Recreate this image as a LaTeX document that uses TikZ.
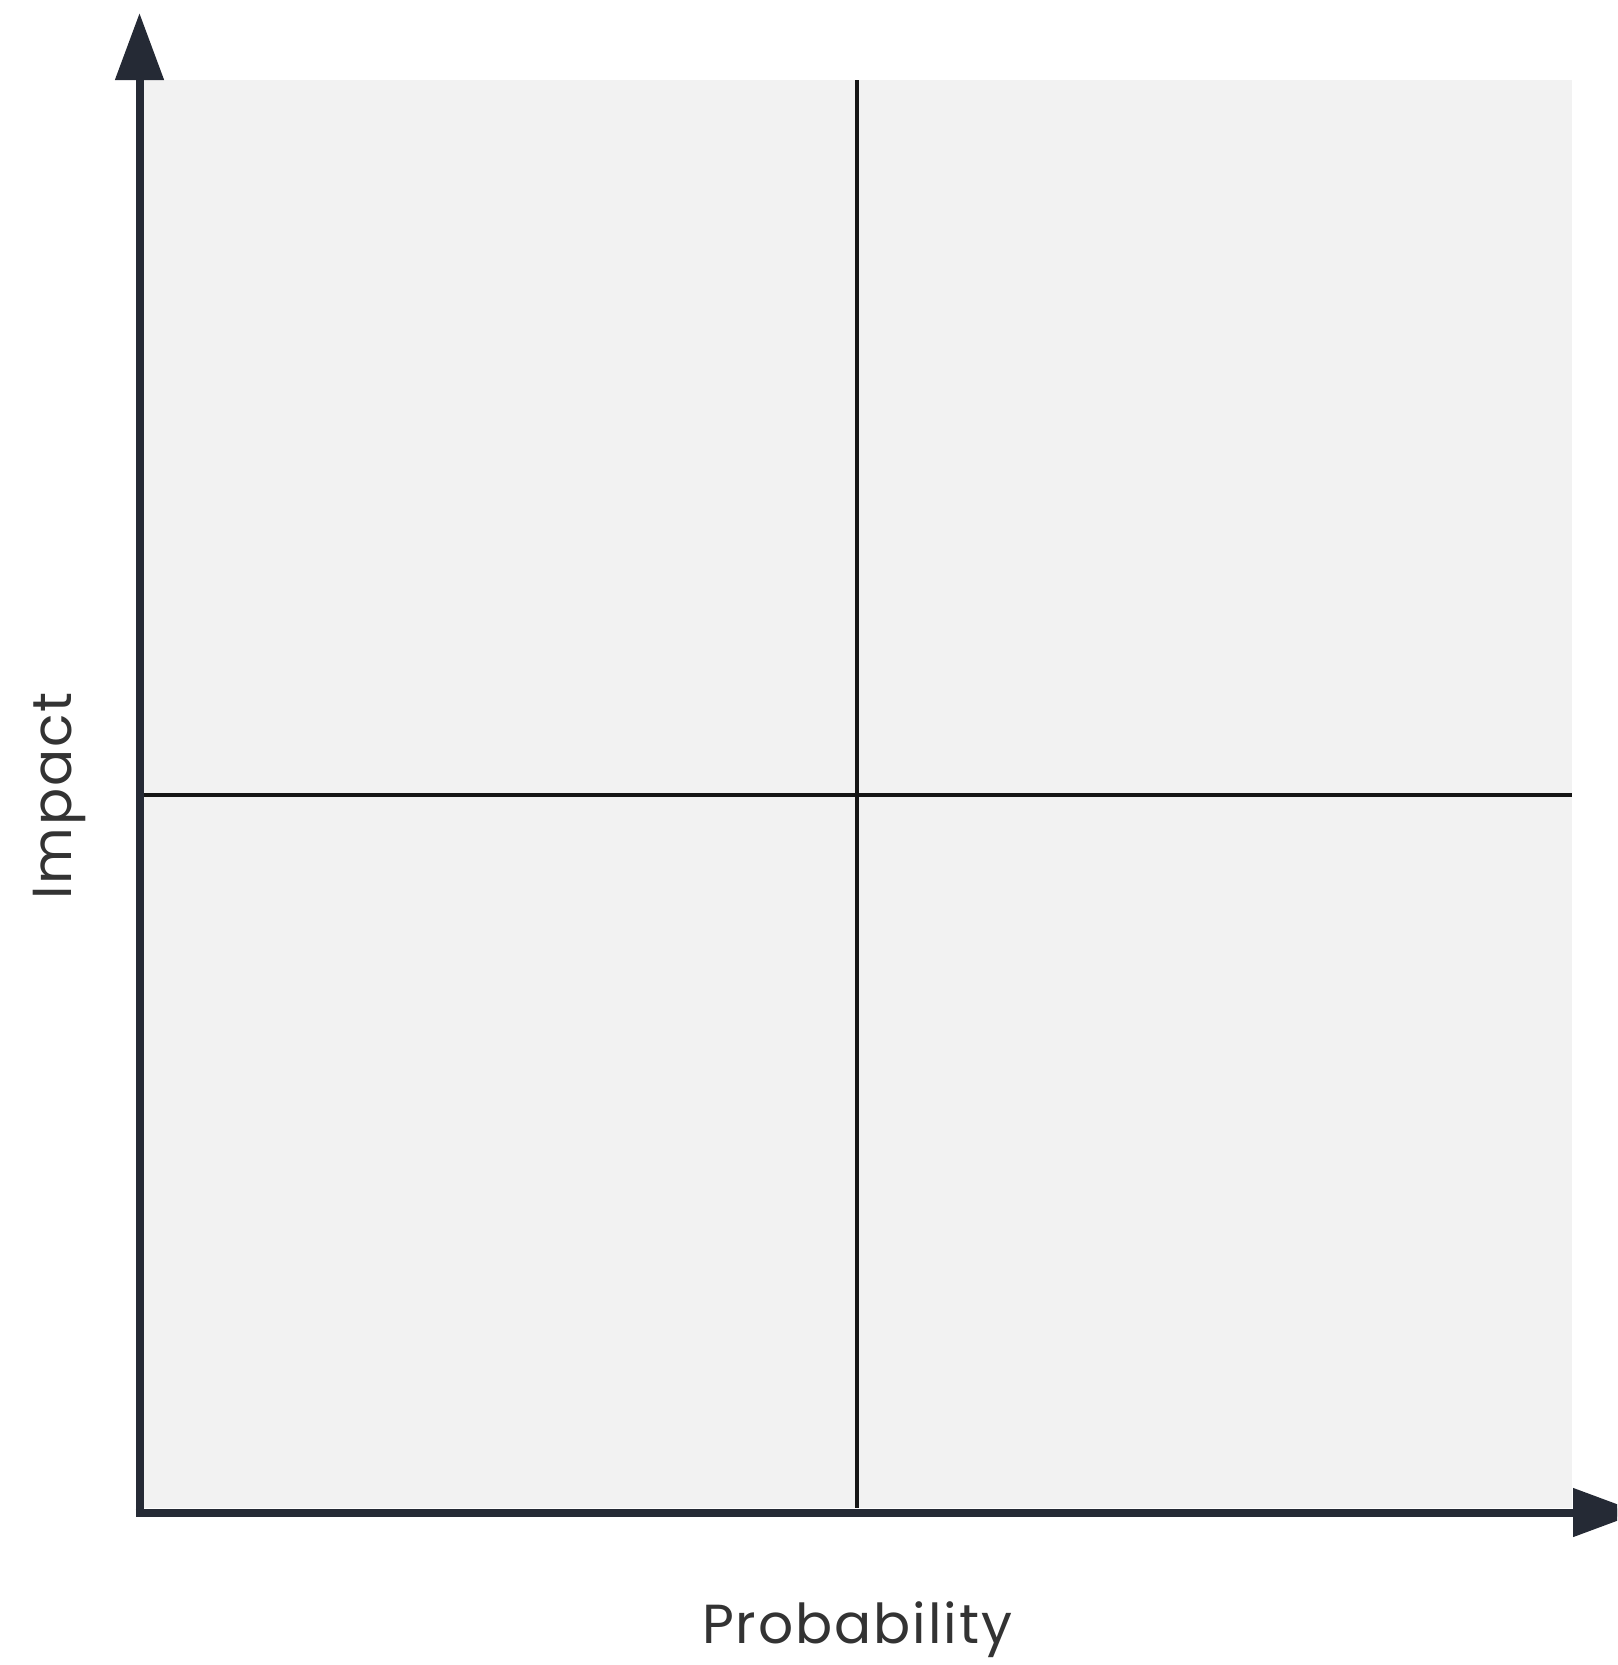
\documentclass[tikz,border=0pt]{standalone}
\usepackage{fontspec}
\setmainfont{Poppins}[LetterSpace=3.5]
\usetikzlibrary{arrows.meta}
\definecolor{axiscol}{HTML}{252A35}
\definecolor{midcol}{HTML}{151515}
\definecolor{quadfill}{HTML}{F2F2F2}
\definecolor{txtcol}{HTML}{333333}
\tikzset{
  axisline/.style={draw=axiscol, line width=8pt, -{Triangle[length=67pt,width=47pt]}},
  midline/.style={draw=midcol, line width=4.5pt},
  axlabel/.style={text=txtcol, font=\fontsize{55}{62}\selectfont, inner sep=0pt}
}
\begin{document}
\begin{tikzpicture}[x=1pt,y=-1pt]
\useasboundingbox (0,0) rectangle (1617,1665);
\clip (0,0) rectangle (1617,1665);
\fill[quadfill] (143,80) rectangle (1572,1508);
\coordinate (O) at (139.5,1512.5);
\coordinate (ytip) at (139.5,13);
\coordinate (xtip) at (1640,1512.5);
\coordinate (vtop) at (857,80);
\coordinate (vbot) at (857,1508);
\coordinate (hleft) at (143,795);
\coordinate (hright) at (1572,795);
\draw[midline] (vtop) -- (vbot);
\draw[midline] (hleft) -- (hright);
\draw[axisline] ([yshift=4pt]O) -- (ytip);
\draw[axisline] ([xshift=-4pt]O) -- (xtip);
\node[axlabel, anchor=base] (xlab) at (857,1643) {Probability};
\node[axlabel, anchor=base, rotate=90] (ylab) at (71,796) {Impact};
\end{tikzpicture}
\end{document}
